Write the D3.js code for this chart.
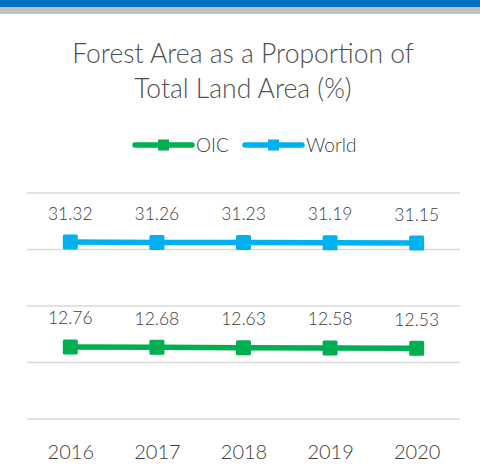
<!DOCTYPE html>
<html><head><meta charset="utf-8">
<script src="https://cdn.jsdelivr.net/npm/d3@7"></script>
<style>html,body{margin:0;padding:0;background:#fff;}</style>
</head><body>
<script>
const years = ["2016","2017","2018","2019","2020"];
const oic = [12.76, 12.68, 12.63, 12.58, 12.53];
const world = [31.32, 31.26, 31.23, 31.19, 31.15];
const yTicks = [0, 10, 20, 30, 40];
const seriesNames = ["OIC", "World"];
const seriesColors = ["#00B050", "#00B0F0"];
const titleLines = ["Forest Area as a Proportion of", "Total Land Area (%)"];

const W = 480, H = 466;
const font = "Lato, 'Open Sans', sans-serif";
const svg = d3.select("body").append("svg").attr("width", W).attr("height", H);

svg.append("rect").attr("x",0).attr("y",0).attr("width",W).attr("height",7).attr("fill","#0070C0");
svg.append("rect").attr("x",0).attr("y",7).attr("width",W).attr("height",7).attr("fill","#BFBFBF");

svg.append("g").selectAll("text").data(titleLines).join("text")
  .attr("x", 243).attr("y", (d,i)=> 63 + i*35)
  .attr("text-anchor","middle").attr("font-family",font).attr("font-weight",300)
  .attr("font-size",26.5).attr("fill","#505050").text(d=>d);

const x = d3.scalePoint().domain(years).range([27,460]).padding(0.5);
const y = d3.scaleLinear().domain([0,40]).range([419,193]);

svg.append("g").selectAll("line").data(yTicks).join("line")
  .attr("x1",27).attr("x2",460).attr("y1",d=>y(d)).attr("y2",d=>y(d))
  .attr("stroke","#D9D9D9").attr("stroke-width",1.5);

const xAxis = svg.append("g").attr("transform","translate(0,419)")
  .call(d3.axisBottom(x).tickSize(0).tickPadding(26));
xAxis.select(".domain").remove();
xAxis.selectAll("text").attr("font-family",font).attr("font-size",20).attr("font-weight",300).attr("fill","#404040");

const series = [oic, world];
series.forEach((vals,si)=>{
  const col = seriesColors[si];
  const pts = years.map((yr,i)=>[x(yr), y(vals[i])]);
  svg.append("path").attr("d", d3.line()(pts)).attr("fill","none")
    .attr("stroke",col).attr("stroke-width",5.5);
  svg.append("g").selectAll("rect").data(pts).join("rect")
    .attr("x",d=>d[0]-7.5).attr("y",d=>d[1]-7.5).attr("width",15).attr("height",15)
    .attr("rx",1.5).attr("fill",col);
  svg.append("g").selectAll("text").data(vals).join("text")
    .attr("x",(d,i)=>x(years[i])).attr("y",(d,i)=>y(d)-22.5)
    .attr("text-anchor","middle").attr("font-family",font).attr("font-size",17.5).attr("font-weight",300)
    .attr("fill","#404040").text(d=>d.toFixed(2));
});

// legend
const legX = [135, 245];
seriesNames.forEach((n,i)=>{
  const g = svg.append("g").attr("transform",`translate(${legX[i]},145)`);
  g.append("line").attr("x1",0).attr("x2",57).attr("y1",0).attr("y2",0)
    .attr("stroke",seriesColors[i]).attr("stroke-width",5.5).attr("stroke-linecap","round");
  g.append("rect").attr("x",23).attr("y",-5.5).attr("width",11).attr("height",11).attr("fill",seriesColors[i]);
  g.append("text").attr("x",61).attr("y",6.5).attr("font-family",font).attr("font-size",19).attr("font-weight",300)
    .attr("fill","#404040").text(n);
});
</script>
</body></html>
